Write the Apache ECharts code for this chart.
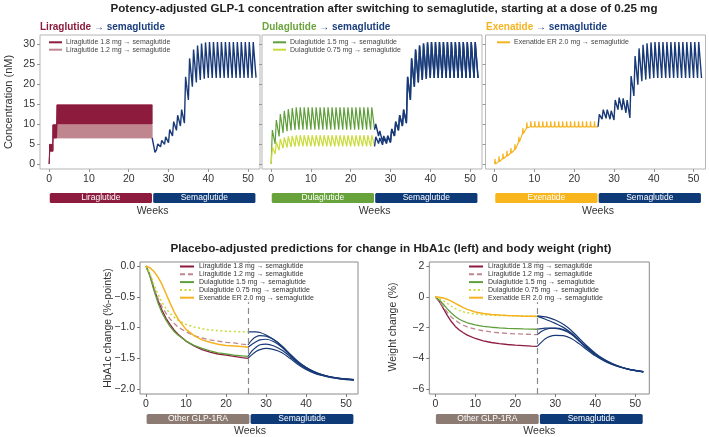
<!DOCTYPE html>
<html><head><meta charset="utf-8">
<script src="https://cdn.jsdelivr.net/npm/echarts@6/dist/echarts.min.js"></script>
<style>html,body{margin:0;padding:0;background:#fff}#c{width:709px;height:437px}</style>
</head><body><div id="c"></div>
<script>
// ================= DATA =================
const weekTicks = [0, 10, 20, 30, 40, 50];
const concTicks = [0, 5, 10, 15, 20, 25, 30];
const hba1cTicks = [0, -0.5, -1, -1.5, -2];
const weightTicks = [2, 0, -2, -4, -6];

const nameLira18 = 'Liraglutide 1.8 mg \u2192 semaglutide';
const nameLira12 = 'Liraglutide 1.2 mg \u2192 semaglutide';
const nameDula15 = 'Dulaglutide 1.5 mg \u2192 semaglutide';
const nameDula075 = 'Dulaglutide 0.75 mg \u2192 semaglutide';
const nameExen = 'Exenatide ER 2.0 mg \u2192 semaglutide';

// Top panel 1: liraglutide daily dosing, drawn as trough-peak band
const lira18Weeks = [0, 0.15, 0.9, 1.0, 1.85, 2.0, 25.9];
const lira18Low   = [0, 3.2, 3.2, 6.5, 6.5, 10.0, 10.0];
const lira18High  = [0, 4.9, 4.9, 9.8, 9.8, 14.8, 14.8];
const lira12Weeks = [0, 0.15, 0.9, 1.0, 25.9];
const lira12Low   = [0, 3.2, 3.2, 6.5, 6.5];
const lira12High  = [0, 4.9, 4.9, 9.8, 9.8];

// semaglutide after liraglutide: start, then weekly troughs (wk 27..52) and peaks (wk 27.3..51.3)
const semaLiraStart = [[25.9, 6.5], [26.6, 2.9]];
const semaLiraTroughs = [3.6, 4.3, 4.9, 5.3, 7.0, 8.4, 9.5, 10.2, 16.0, 19.3, 20.4, 21.0, 21.3,
  21.5, 21.5, 21.5, 21.5, 21.5, 21.5, 21.5, 21.5, 21.5, 21.5, 21.5, 21.5, 21.6];
const semaLiraPeaks = [5.0, 5.9, 6.8, 8.6, 10.6, 12.2, 13.6, 21.8, 26.4, 28.6, 29.6, 30.1, 30.4,
  30.5, 30.5, 30.5, 30.5, 30.5, 30.5, 30.5, 30.5, 30.5, 30.5, 30.5, 30.5];

// Top panel 2: dulaglutide weekly troughs (wk 0..26) and peaks (wk 0.3..25.3)
const dula15Troughs = [0, 5.0, 6.9, 7.8, 8.2, 8.4, 8.5,
  8.6, 8.6, 8.6, 8.6, 8.6, 8.6, 8.6, 8.6, 8.6, 8.6,
  8.6, 8.6, 8.6, 8.6, 8.6, 8.6, 8.6, 8.6, 8.6, 8.6];
const dula15Peaks = [8.5, 11.0, 12.5, 13.3, 13.7, 14.0,
  14.2, 14.2, 14.2, 14.2, 14.2, 14.2, 14.2, 14.2, 14.2, 14.2,
  14.2, 14.2, 14.2, 14.2, 14.2, 14.2, 14.2, 14.2, 14.2, 14.2];
const dula075Troughs = [0, 2.5, 3.45, 3.9, 4.1, 4.25, 4.35,
  4.4, 4.4, 4.4, 4.4, 4.4, 4.4, 4.4, 4.4, 4.4, 4.4,
  4.4, 4.4, 4.4, 4.4, 4.4, 4.4, 4.4, 4.4, 4.4, 4.4];
const dula075Peaks = [4.25, 5.5, 6.25, 6.65, 6.9, 7.05,
  7.2, 7.2, 7.2, 7.2, 7.2, 7.2, 7.2, 7.2, 7.2, 7.2,
  7.2, 7.2, 7.2, 7.2, 7.2, 7.2, 7.2, 7.2, 7.2, 7.2];
// semaglutide after dulaglutide: troughs wk 26..52, peaks wk 26.3..51.3
const semaDula15Troughs = [8.6, 7.0, 5.6, 5.4, 5.5, 7.0, 8.4, 9.5, 10.2, 16.0, 19.3, 20.4, 21.0, 21.3,
  21.5, 21.5, 21.5, 21.5, 21.5, 21.5, 21.5, 21.5, 21.5, 21.5, 21.5, 21.5, 21.5];
const semaDula15Peaks = [10.0, 8.3, 7.0, 7.1, 8.8, 10.6, 12.2, 13.6, 21.8, 26.4, 28.6, 29.6, 30.1, 30.4,
  30.5, 30.5, 30.5, 30.5, 30.5, 30.5, 30.5, 30.5, 30.5, 30.5, 30.5, 30.5];
const semaDula075Troughs = [4.4, 5.1, 4.8, 5.1, 5.3, 7.0, 8.4, 9.5, 10.2, 16.0, 19.3, 20.4, 21.0, 21.3,
  21.5, 21.5, 21.5, 21.5, 21.5, 21.5, 21.5, 21.5, 21.5, 21.5, 21.5, 21.5, 21.5];
const semaDula075Peaks = [6.8, 6.5, 6.5, 6.9, 8.7, 10.6, 12.2, 13.6, 21.8, 26.4, 28.6, 29.6, 30.1, 30.4,
  30.5, 30.5, 30.5, 30.5, 30.5, 30.5, 30.5, 30.5, 30.5, 30.5, 30.5, 30.5];

// Top panel 3: exenatide ER base level (wk 0..26) and weekly spike height (wk 0..25)
const exenBase = [0, 0.6, 1.3, 2.0, 2.7, 3.6, 5.5, 7.6, 9.0,
  9.3, 9.3, 9.3, 9.3, 9.3, 9.3, 9.3, 9.3, 9.3,
  9.3, 9.3, 9.3, 9.3, 9.3, 9.3, 9.3, 9.3, 9.3];
const exenSpike = [1.3, 1.3, 1.3, 1.3, 1.3, 1.3, 1.3,
  1.4, 1.4, 1.4, 1.4, 1.4, 1.4, 1.4, 1.4, 1.4, 1.4,
  1.4, 1.4, 1.4, 1.4, 1.4, 1.4, 1.4, 1.4, 1.4];
const semaExenTroughs = [9.3, 11.2, 11.4, 11.2, 11.0, 13.6, 13.5, 12.8, 11.5, 17.0, 19.8, 20.7, 21.1, 21.3,
  21.5, 21.5, 21.5, 21.5, 21.5, 21.5, 21.5, 21.5, 21.5, 21.5, 21.5, 21.5, 21.5];
const semaExenPeaks = [12.4, 13.6, 13.6, 13.3, 16.0, 16.6, 16.4, 16.0, 22.0, 27.0, 28.9, 29.8, 30.2, 30.4,
  30.5, 30.5, 30.5, 30.5, 30.5, 30.5, 30.5, 30.5, 30.5, 30.5, 30.5, 30.5];

// Bottom panels
const prevWeeks = [0, 1, 2, 3, 4, 5, 6, 7, 8, 10, 12, 14, 16, 18, 20, 22, 24, 25.5];
const semaWeeks = [25.5, 26.5, 27.5, 28.5, 30, 32, 34, 36, 38, 40, 42, 44, 46, 48, 50, 52];
const switchWeek = 25.5;

const hbLira18 = [0, -0.15, -0.37, -0.56, -0.72, -0.85, -0.95, -1.04, -1.11, -1.22, -1.3, -1.36, -1.4, -1.43, -1.45, -1.47, -1.49, -1.5];
const hbLira12 = [0, -0.15, -0.36, -0.53, -0.66, -0.77, -0.86, -0.93, -0.99, -1.07, -1.13, -1.17, -1.2, -1.22, -1.24, -1.25, -1.27, -1.28];
const hbDula15 = [0, -0.17, -0.4, -0.6, -0.76, -0.88, -0.98, -1.06, -1.12, -1.22, -1.29, -1.34, -1.38, -1.41, -1.43, -1.45, -1.46, -1.47];
const hbDula075 = [0, -0.12, -0.3, -0.46, -0.59, -0.69, -0.77, -0.83, -0.88, -0.95, -0.99, -1.02, -1.04, -1.05, -1.06, -1.065, -1.07, -1.07];
const hbExen = [0, -0.03, -0.09, -0.18, -0.3, -0.45, -0.6, -0.74, -0.86, -1.03, -1.13, -1.2, -1.24, -1.27, -1.29, -1.3, -1.31, -1.32];
const hbSemaAfterDula075 = [-1.07, -1.07, -1.07, -1.08, -1.12, -1.2, -1.31, -1.44, -1.56, -1.65, -1.72, -1.77, -1.8, -1.82, -1.835, -1.845];
const hbSemaAfterLira12 = [-1.28, -1.2, -1.15, -1.13, -1.14, -1.2, -1.3, -1.43, -1.55, -1.645, -1.715, -1.765, -1.8, -1.82, -1.835, -1.845];
const hbSemaAfterExen = [-1.32, -1.27, -1.23, -1.2, -1.19, -1.23, -1.32, -1.45, -1.565, -1.655, -1.72, -1.77, -1.8, -1.825, -1.84, -1.85];
const hbSemaAfterDula15 = [-1.47, -1.38, -1.32, -1.28, -1.27, -1.3, -1.37, -1.47, -1.58, -1.665, -1.73, -1.775, -1.805, -1.825, -1.84, -1.85];
const hbSemaAfterLira18 = [-1.5, -1.44, -1.39, -1.36, -1.34, -1.36, -1.41, -1.5, -1.6, -1.68, -1.74, -1.78, -1.81, -1.83, -1.845, -1.855];

const wtLira18 = [0, -0.3, -0.75, -1.2, -1.6, -1.92, -2.15, -2.33, -2.48, -2.7, -2.85, -2.96, -3.03, -3.09, -3.13, -3.16, -3.19, -3.21];
const wtLira12 = [0, -0.28, -0.65, -1.0, -1.3, -1.52, -1.7, -1.84, -1.95, -2.1, -2.2, -2.28, -2.33, -2.37, -2.4, -2.42, -2.44, -2.45];
const wtDula15 = [0, -0.2, -0.48, -0.78, -1.05, -1.27, -1.45, -1.58, -1.68, -1.82, -1.91, -1.97, -2.01, -2.04, -2.06, -2.08, -2.09, -2.1];
const wtDula075 = [0, -0.1, -0.25, -0.42, -0.6, -0.76, -0.88, -0.97, -1.03, -1.11, -1.16, -1.19, -1.21, -1.22, -1.23, -1.235, -1.24, -1.24];
const wtExen = [0, -0.02, -0.07, -0.16, -0.28, -0.42, -0.56, -0.7, -0.81, -0.98, -1.08, -1.14, -1.18, -1.21, -1.23, -1.25, -1.26, -1.27];
const wtSemaAfterDula075 = [-1.24, -1.26, -1.3, -1.36, -1.5, -1.78, -2.18, -2.7, -3.2, -3.65, -4.02, -4.3, -4.5, -4.66, -4.77, -4.85];
const wtSemaAfterExen = [-1.27, -1.35, -1.45, -1.55, -1.72, -1.98, -2.35, -2.82, -3.28, -3.7, -4.05, -4.32, -4.52, -4.67, -4.77, -4.85];
const wtSemaAfterLira12 = [-2.45, -2.25, -2.12, -2.05, -2.03, -2.12, -2.38, -2.85, -3.32, -3.74, -4.07, -4.33, -4.53, -4.67, -4.78, -4.86];
const wtSemaAfterDula15 = [-2.1, -2.06, -2.03, -2.02, -2.05, -2.16, -2.42, -2.88, -3.35, -3.76, -4.08, -4.34, -4.53, -4.68, -4.78, -4.86];
const wtSemaAfterLira18 = [-3.21, -2.95, -2.72, -2.58, -2.5, -2.52, -2.7, -3.05, -3.45, -3.82, -4.12, -4.36, -4.55, -4.69, -4.79, -4.87];

// treatment phase strips
const phaseBounds = [0, 26, 52];
const phasesLira = ['Liraglutide', 'Semaglutide'];
const phasesDula = ['Dulaglutide', 'Semaglutide'];
const phasesExen = ['Exenatide', 'Semaglutide'];
const phasesOther = ['Other GLP-1RA', 'Semaglutide'];

// ================= STYLE =================
const FONT = "'Liberation Sans', Arial, Helvetica, sans-serif";
const C = { lira18: '#8c1b3e', lira12: '#c0868f', dula15: '#5f9f3b', dula075: '#c9dc3b', exen: '#f6b320', sema: '#183a78' };
const phaseColor = { 'Liraglutide': '#8c1b3e', 'Dulaglutide': '#67a33a', 'Exenatide': '#f8b51c', 'Semaglutide': '#0e3a78', 'Other GLP-1RA': '#8b7b73' };

// ================= BUILD =================
function sawtooth(firstWeek, troughs, peaks, off) {
  const pts = [];
  for (let i = 0; i < troughs.length; i++) {
    pts.push([firstWeek + i, troughs[i]]);
    if (i < peaks.length) pts.push([firstWeek + i + off, peaks[i]]);
  }
  return pts;
}
function pairs(xs, ys) { return xs.map((x, i) => [x, ys[i]]); }
function quads(w, lo, hi) {
  const out = [];
  for (let i = 0; i < w.length - 1; i++) out.push([w[i], lo[i], hi[i], w[i + 1], lo[i + 1], hi[i + 1]]);
  return out;
}
const exenPts = [];
for (let i = 0; i < exenBase.length; i++) {
  exenPts.push([i, exenBase[i]]);
  if (i < exenSpike.length) { exenPts.push([i + 0.1, exenBase[i] + exenSpike[i]]); exenPts.push([i + 0.22, exenBase[i]]); }
}

const grid = [], xAxis = [], yAxis = [], series = [];
function addCart(g, xa, ya) {
  grid.push(g); const gi = grid.length - 1;
  xAxis.push(Object.assign({ type: 'value', gridIndex: gi }, xa));
  yAxis.push(Object.assign({ type: 'value', gridIndex: gi }, ya));
  return gi;
}
function valAxis(min, max, ticks, showLabel, fmt, color, margin) {
  return {
    min, max, axisLine: { show: false, onZero: false }, splitLine: { show: false },
    axisTick: { show: true, customValues: ticks, length: 3, lineStyle: { color: color } },
    axisLabel: { show: showLabel, customValues: ticks, formatter: fmt, fontSize: 10.5, color: '#333', fontFamily: FONT, margin: margin }
  };
}
const hidden = (min, max) => ({ min, max, show: false, axisLine: { onZero: false } });
const intFmt = v => String(v);
const minusFmt = d => v => (v < 0 ? '\u2212' : '') + Math.abs(v).toFixed(d);

function lineS(gi, name, data, color, width, type, z) {
  return { type: 'line', name, xAxisIndex: gi, yAxisIndex: gi, data, symbol: 'none', silent: true,
    lineStyle: { color, width, type: type || 'solid' }, itemStyle: { color }, z: z || 2 };
}
function stripS(gi, names) {
  return {
    type: 'custom', xAxisIndex: gi, yAxisIndex: gi, silent: true,
    data: names.map((n, i) => [phaseBounds[i], phaseBounds[i + 1]]),
    encode: { x: [0, 1] },
    renderItem: (params, api) => {
      const a = api.coord([api.value(0), 1]);
      const b = api.coord([api.value(1), 0]);
      const nm = names[params.dataIndex];
      return {
        type: 'rect', shape: { x: a[0] + 0.6, y: a[1], width: b[0] - a[0] - 1.2, height: b[1] - a[1], r: 1.5 },
        style: { fill: phaseColor[nm] },
        textContent: { style: { text: nm, fill: '#fff', fontSize: 8.5, fontFamily: FONT } },
        textConfig: { position: 'inside' }
      };
    }
  };
}
function bandS(gi, name, q, color) {
  return {
    type: 'custom', name, xAxisIndex: gi, yAxisIndex: gi, silent: true, data: q,
    encode: { x: [0, 3], y: [1, 2, 4, 5] }, itemStyle: { color },
    renderItem: (params, api) => {
      const p0h = api.coord([api.value(0), api.value(2)]);
      const p0l = api.coord([api.value(0), api.value(1)]);
      const p1h = api.coord([api.value(3), api.value(5)]);
      const p1l = api.coord([api.value(3), api.value(4)]);
      return { type: 'polygon', shape: { points: [p0h, p1h, p1l, p0l] }, style: { fill: color, stroke: color, lineWidth: 0.8 } };
    }
  };
}

// ---- bottom-left (HbA1c) ----
const gBL = addCart({ left: 140, top: 262, width: 218, height: 132, show: true, borderColor: '#8a8a8a', borderWidth: 1 },
  valAxis(-1.5, 53, weekTicks, true, intFmt, '#777', 5),
  valAxis(-2.08, 0.065, hba1cTicks, true, minusFmt(1), '#777', 5));
series.push(lineS(gBL, nameLira18, pairs(prevWeeks, hbLira18), C.lira18, 1.3));
series.push(lineS(gBL, nameLira12, pairs(prevWeeks, hbLira12), C.lira12, 1.3, [5, 3]));
series.push(lineS(gBL, nameDula15, pairs(prevWeeks, hbDula15), C.dula15, 1.3));
series.push(lineS(gBL, nameDula075, pairs(prevWeeks, hbDula075), C.dula075, 1.5, [2, 2.5]));
series.push(lineS(gBL, nameExen, pairs(prevWeeks, hbExen), C.exen, 1.5));
[hbSemaAfterDula075, hbSemaAfterLira12, hbSemaAfterExen, hbSemaAfterDula15, hbSemaAfterLira18].forEach((d, i) => {
  const s = lineS(gBL, 'hb-sema-' + i, pairs(semaWeeks, d), C.sema, 1.2);
  s.smooth = 0.3;
  if (i === 0) s.markLine = { silent: true, symbol: ['none', 'none'], label: { show: false },
    lineStyle: { color: '#8a8a8a', type: [6, 4], width: 1.2 }, data: [{ xAxis: switchWeek }] };
  series.push(s);
});
// ---- bottom-right (weight) ----
const gBR = addCart({ left: 429.3, top: 262, width: 220, height: 132, show: true, borderColor: '#8a8a8a', borderWidth: 1 },
  valAxis(-1.5, 53.5, weekTicks, true, intFmt, '#777', 5),
  valAxis(-6.3, 2.26, weightTicks, true, minusFmt(0), '#777', 5));
series.push(lineS(gBR, nameLira18, pairs(prevWeeks, wtLira18), C.lira18, 1.3));
series.push(lineS(gBR, nameLira12, pairs(prevWeeks, wtLira12), C.lira12, 1.3, [5, 3]));
series.push(lineS(gBR, nameDula15, pairs(prevWeeks, wtDula15), C.dula15, 1.3));
series.push(lineS(gBR, nameDula075, pairs(prevWeeks, wtDula075), C.dula075, 1.5, [2, 2.5]));
series.push(lineS(gBR, nameExen, pairs(prevWeeks, wtExen), C.exen, 1.5));
[wtSemaAfterDula075, wtSemaAfterExen, wtSemaAfterLira12, wtSemaAfterDula15, wtSemaAfterLira18].forEach((d, i) => {
  const s = lineS(gBR, 'wt-sema-' + i, pairs(semaWeeks, d), C.sema, 1.2);
  s.smooth = 0.3;
  if (i === 0) s.markLine = { silent: true, symbol: ['none', 'none'], label: { show: false },
    lineStyle: { color: '#8a8a8a', type: [6, 4], width: 1.2 }, data: [{ xAxis: switchWeek }] };
  series.push(s);
});

// ---- top panels ----
const topLefts = [40, 262, 485.5];
const topG = topLefts.map((l, p) => addCart({ left: l, top: 35, width: 220, height: 134, show: true, borderColor: '#b5b5b5', borderWidth: 1 },
  valAxis(-2.3, 53, weekTicks, true, intFmt, '#999', 5),
  valAxis(-1.25, 32.25, concTicks, p === 0, intFmt, '#999', 5)));
series.push(bandS(topG[0], nameLira12, quads(lira12Weeks, lira12Low, lira12High), C.lira12));
series.push(bandS(topG[0], nameLira18, quads(lira18Weeks, lira18Low, lira18High), C.lira18));
series.push(lineS(topG[0], 'sema-lira', semaLiraStart.concat(sawtooth(27, semaLiraTroughs, semaLiraPeaks, 0.3)), C.sema, 1.4, null, 3));
series.push(lineS(topG[1], nameDula15, sawtooth(0, dula15Troughs, dula15Peaks, 0.3), C.dula15, 1.2));
series.push(lineS(topG[1], nameDula075, sawtooth(0, dula075Troughs, dula075Peaks, 0.3), C.dula075, 1.2));
series.push(lineS(topG[1], 'sema-dula075', sawtooth(26, semaDula075Troughs, semaDula075Peaks, 0.3), C.sema, 1.4, null, 3));
series.push(lineS(topG[1], 'sema-dula15', sawtooth(26, semaDula15Troughs, semaDula15Peaks, 0.3), C.sema, 1.4, null, 3));
series.push(lineS(topG[2], nameExen, exenPts, C.exen, 1.2));
series.push(lineS(topG[2], 'sema-exen', sawtooth(26, semaExenTroughs, semaExenPeaks, 0.3), C.sema, 1.4, null, 3));

// ---- strips ----
[phasesLira, phasesDula, phasesExen].forEach((ph, p) => {
  const g = addCart({ left: topLefts[p], top: 193, width: 220, height: 10 }, hidden(-2.3, 53), hidden(0, 1));
  series.push(stripS(g, ph));
});
const gsl = addCart({ left: 140, top: 414, width: 218, height: 10 }, hidden(-1.5, 53), hidden(0, 1));
series.push(stripS(gsl, phasesOther));
const gsr = addCart({ left: 429.3, top: 414, width: 220, height: 10 }, hidden(-1.5, 53.5), hidden(0, 1));
series.push(stripS(gsr, phasesOther));

// ---- legends ----
const topLegend = (left, items) => ({
  left, top: 38.8, orient: 'vertical', selectedMode: false, padding: 0, icon: 'rect', itemWidth: 13, itemHeight: 2, itemGap: 0.4,
  itemStyle: { borderWidth: 0, opacity: 1 },
  data: items.map(([n, c]) => ({ name: n, itemStyle: { color: c, borderWidth: 0, opacity: 1 } })),
  textStyle: { fontSize: 7, lineHeight: 7, color: '#444', fontFamily: FONT, padding: [0, 0, 0, -1] }
});
const botLegend = (left) => ({
  left, top: 263, orient: 'vertical', selectedMode: false, padding: [0, 3, 1, 1], backgroundColor: '#fff', z: 10,
  itemWidth: 14, itemHeight: 7, itemGap: 0.8, itemStyle: { opacity: 0 },
  data: [nameLira18, nameLira12, nameDula15, nameDula075, nameExen],
  textStyle: { fontSize: 7, lineHeight: 7, color: '#333', fontFamily: FONT }
});
const legend = [
  topLegend(49, [[nameLira18, C.lira18], [nameLira12, C.lira12]]),
  topLegend(273, [[nameDula15, C.dula15], [nameDula075, C.dula075]]),
  topLegend(497, [[nameExen, C.exen]]),
  botLegend(178), botLegend(467)
];

// ---- texts ----
const T = (x, y, text, size, opts) => Object.assign({ type: 'text', x, y, silent: true,
  style: Object.assign({ text, fontSize: size, fontFamily: FONT, fill: '#333', align: 'center', verticalAlign: 'middle' }, (opts && opts.style) || {}) },
  (opts && opts.el) || {});
const sub = (x, drug, color) => ({ type: 'text', x, y: 27, silent: true, style: {
  text: '{a|' + drug + '}{b| \u2192 semaglutide}', align: 'left', verticalAlign: 'middle', fontFamily: FONT,
  rich: { a: { fill: color, fontSize: 10, fontWeight: 'bold', fontFamily: FONT }, b: { fill: '#1b3f7e', fontSize: 10, fontWeight: 'bold', fontFamily: FONT } } } });
const graphic = [
  T(384, 9, 'Potency-adjusted GLP-1 concentration after switching to semaglutide, starting at a dose of 0.25 mg', 11.6, { style: { fontWeight: 'bold', fill: '#222' } }),
  sub(40, 'Liraglutide', '#8c1b3e'), sub(262, 'Dulaglutide', '#6aa33c'), sub(486, 'Exenatide', '#f6b320'),
  T(8.5, 102, 'Concentration (nM)', 11, { el: { rotation: Math.PI / 2 } }),
  T(152.6, 211, 'Weeks', 10.5), T(374.6, 211, 'Weeks', 10.5), T(598, 211, 'Weeks', 10.5),
  T(391, 249, 'Placebo-adjusted predictions for change in HbA1c (left) and body weight (right)', 11.7, { style: { fontWeight: 'bold', fill: '#222' } }),
  T(108, 328, 'HbA1c change (%-points)', 10.5, { el: { rotation: Math.PI / 2 } }),
  T(393, 327, 'Weight change (%)', 10.5, { el: { rotation: Math.PI / 2 } }),
  T(250, 431, 'Weeks', 10.5), T(539.3, 431, 'Weeks', 10.5)
];

const chart = echarts.init(document.getElementById('c'), null, { renderer: 'canvas' });
chart.setOption({
  animation: false, backgroundColor: '#fff', textStyle: { fontFamily: FONT },
  grid, xAxis, yAxis, series, legend, graphic
});
</script></body></html>
